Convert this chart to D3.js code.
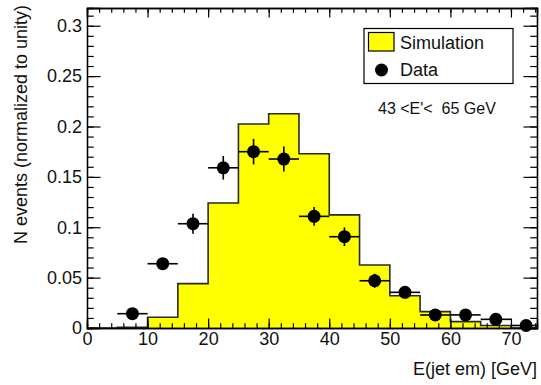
<!DOCTYPE html>
<html>
<head>
<meta charset="utf-8">
<script src="https://cdn.jsdelivr.net/npm/d3@7"></script>
<style>
  html, body { margin: 0; padding: 0; background: #fff; }
  svg { display: block; font-family: "Liberation Sans", Arial, Helvetica, sans-serif; }
</style>
</head>
<body>
<svg id="chart" width="541" height="385"></svg>
<script>
// Simulated spectrum: lower bin edges (GeV) and normalised contents
const simBinLow = [0, 5, 10, 15, 20, 25, 30, 35, 40, 45, 50, 55, 60, 65, 70];
const simValues = [0, 0.0007, 0.0106, 0.044, 0.124, 0.2025, 0.2127, 0.173, 0.1123, 0.0626, 0.032, 0.0163, 0.0063, 0.0025, 0];
const binWidth = 5;

// Measured points: bin centres, normalised contents and statistical errors
const dataX = [7.5, 12.5, 17.5, 22.5, 27.5, 32.5, 37.5, 42.5, 47.5, 52.5, 57.5, 62.5, 67.5, 72.5];
const dataY = [0.0142, 0.0638, 0.1035, 0.159, 0.175, 0.1677, 0.1108, 0.0906, 0.0469, 0.0354, 0.0129, 0.013, 0.0086, 0.0025];
const dataErr = [0.003, 0.005, 0.0099, 0.0117, 0.0127, 0.0124, 0.0093, 0.0093, 0.007, 0.006, 0.004, 0.004, 0.003, 0.002];

// Axis ticks
const xMajorTicks = [0, 10, 20, 30, 40, 50, 60, 70];
const xMinorTicks = d3.range(0, 75, 2);
const yMajorTicks = [0, 0.05, 0.1, 0.15, 0.2, 0.25, 0.3];
const yMinorTicks = d3.range(0, 0.3151, 0.01);

const legendLabels = ["Simulation", "Data"];
const rangeLabel = "43 <E'<  65 GeV";
const xTitle = "E(jet em) [GeV]";
const yTitle = "N events (normalized to unity)";

const frame = { left: 87, right: 537, top: 8, bottom: 328 };
const svg = d3.select("#chart");

const x = d3.scaleLinear().domain([0, 74.3]).range([frame.left, frame.right]);
const y = d3.scaleLinear().domain([0, 0.3176]).range([frame.bottom, frame.top]);

svg.append("defs").append("clipPath").attr("id", "plotClip")
  .append("rect")
  .attr("x", frame.left).attr("y", frame.top)
  .attr("width", frame.right - frame.left).attr("height", frame.bottom - frame.top);

const plot = svg.append("g").attr("clip-path", "url(#plotClip)");

// Simulation histogram (step shape)
const histPts = simBinLow.map((lo, i) => [lo, simValues[i]]);
histPts.push([simBinLow[simBinLow.length - 1] + binWidth, 0]);

plot.append("path")
  .datum(histPts)
  .attr("fill", "#ffff00")
  .attr("stroke", "none")
  .attr("d", d3.area().curve(d3.curveStepAfter).x(d => x(d[0])).y0(y(0)).y1(d => y(d[1])));

plot.append("path")
  .datum(histPts)
  .attr("fill", "none")
  .attr("stroke", "#2a2a2a")
  .attr("stroke-width", 1.6)
  .attr("d", d3.line().curve(d3.curveStepAfter).x(d => x(d[0])).y(d => y(d[1])));

// Axes: ticks point into the frame on all four sides
const tickFont = 18;
const fw = frame.right - frame.left, fh = frame.bottom - frame.top;
const xMajorLen = 0.03 * fh, xMinorLen = 0.015 * fh;
const yMajorLen = 0.03 * fw, yMinorLen = 0.015 * fw;

function styleAxis(g) {
  g.select(".domain").attr("stroke", "#000").attr("stroke-width", 1.3);
  g.selectAll(".tick line").attr("stroke", "#000").attr("stroke-width", 1.2);
  g.selectAll("text").attr("font-size", tickFont).attr("fill", "#111")
    .attr("font-family", "Liberation Sans, Arial, sans-serif");
}

// bottom
svg.append("g").attr("transform", `translate(0,${frame.bottom})`)
  .call(d3.axisBottom(x).tickValues(xMinorTicks).tickSize(-xMinorLen).tickFormat(""))
  .call(styleAxis);
svg.append("g").attr("transform", `translate(0,${frame.bottom})`)
  .call(d3.axisBottom(x).tickValues(xMajorTicks).tickSize(-xMajorLen).tickPadding(4).tickFormat(d3.format("d")))
  .call(styleAxis);
// top
svg.append("g").attr("transform", `translate(0,${frame.top})`)
  .call(d3.axisTop(x).tickValues(xMinorTicks).tickSize(-xMinorLen).tickFormat(""))
  .call(styleAxis);
svg.append("g").attr("transform", `translate(0,${frame.top})`)
  .call(d3.axisTop(x).tickValues(xMajorTicks).tickSize(-xMajorLen).tickFormat(""))
  .call(styleAxis);
// left
svg.append("g").attr("transform", `translate(${frame.left},0)`)
  .call(d3.axisLeft(y).tickValues(yMinorTicks).tickSize(-yMinorLen).tickFormat(""))
  .call(styleAxis);
svg.append("g").attr("transform", `translate(${frame.left},0)`)
  .call(d3.axisLeft(y).tickValues(yMajorTicks).tickSize(-yMajorLen).tickPadding(5).tickFormat(d => d === 0 ? "0" : String(+d.toFixed(2))))
  .call(styleAxis);
// right
svg.append("g").attr("transform", `translate(${frame.right},0)`)
  .call(d3.axisRight(y).tickValues(yMinorTicks).tickSize(-yMinorLen).tickFormat(""))
  .call(styleAxis);
svg.append("g").attr("transform", `translate(${frame.right},0)`)
  .call(d3.axisRight(y).tickValues(yMajorTicks).tickSize(-yMajorLen).tickFormat(""))
  .call(styleAxis);

// Axis titles
svg.append("text")
  .attr("x", frame.right).attr("y", 375)
  .attr("text-anchor", "end")
  .attr("font-size", 18).attr("fill", "#111")
  .text(xTitle);

svg.append("text")
  .attr("transform", "translate(27,5) rotate(-90)")
  .attr("text-anchor", "end")
  .attr("font-size", 18).attr("fill", "#111")
  .text(yTitle);

// Data points with error bars
const pts = svg.append("g").attr("clip-path", "url(#plotClip)");
const dataRows = dataX.map((cx, i) => ({ cx, cy: dataY[i], err: dataErr[i] }));

pts.selectAll("line.h").data(dataRows).join("line")
  .attr("class", "h")
  .attr("x1", d => x(d.cx - binWidth / 2)).attr("x2", d => x(d.cx + binWidth / 2))
  .attr("y1", d => y(d.cy)).attr("y2", d => y(d.cy))
  .attr("stroke", "#000").attr("stroke-width", 1.6);

pts.selectAll("line.v").data(dataRows).join("line")
  .attr("class", "v")
  .attr("x1", d => x(d.cx)).attr("x2", d => x(d.cx))
  .attr("y1", d => y(d.cy - d.err)).attr("y2", d => y(d.cy + d.err))
  .attr("stroke", "#000").attr("stroke-width", 1.6);

svg.selectAll("circle.pt").data(dataRows).join("circle")
  .attr("class", "pt")
  .attr("cx", d => x(d.cx)).attr("cy", d => y(d.cy))
  .attr("r", 6.5).attr("fill", "#000");

// Legend
const leg = svg.append("g");
leg.append("rect")
  .attr("x", 364).attr("y", 28.5).attr("width", 149).attr("height", 55)
  .attr("fill", "#fff").attr("stroke", "#000").attr("stroke-width", 1.2);
leg.append("rect")
  .attr("x", 368.5).attr("y", 32.5).attr("width", 25.5).attr("height", 18.5)
  .attr("fill", "#ffff00").attr("stroke", "#000").attr("stroke-width", 1.2);
leg.append("text")
  .attr("x", 400).attr("y", 49).attr("font-size", 18).attr("fill", "#111")
  .text(legendLabels[0]);
leg.append("circle")
  .attr("cx", 381.5).attr("cy", 70).attr("r", 6.5).attr("fill", "#000");
leg.append("text")
  .attr("x", 400).attr("y", 76).attr("font-size", 18).attr("fill", "#111")
  .text(legendLabels[1]);

svg.append("text")
  .attr("x", 378).attr("y", 114)
  .attr("font-size", 16).attr("fill", "#111")
  .style("white-space", "pre")
  .text(rangeLabel);
</script>
</body>
</html>
